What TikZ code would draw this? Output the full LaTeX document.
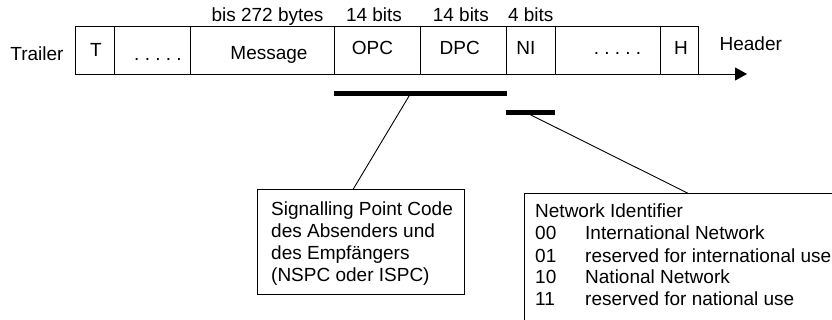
\documentclass[tikz,border=0pt]{standalone}
\usepackage{fontspec}
\setmainfont{Liberation Sans}
\usetikzlibrary{arrows.meta}
\begin{document}
\begin{tikzpicture}[x=1pt,y=-1pt,
  field/.style={draw, line width=0.9pt, rectangle, minimum height=48pt, inner sep=0pt, outer sep=0pt},
  lbl/.style={anchor=base, inner sep=0pt, font=\fontsize{19}{22}\selectfont},
  lblw/.style={anchor=base west, inner sep=0pt, font=\fontsize{19}{22}\selectfont},
  bar/.style={fill=black, inner sep=0pt, outer sep=0pt, minimum height=4.5pt},
  lead/.style={line width=0.9pt},
  infobox/.style={draw, line width=0.9pt, rectangle, inner sep=0pt, outer sep=0pt, anchor=north west}]
\useasboundingbox (0,0) rectangle (832,320);
\clip (0,0) rectangle (832,320);

% packet fields
\node[field, minimum width=39pt]    (fT)    at (94.5,50) {};
\node[field, minimum width=76.7pt]  (fdots1) at (152.35,50) {};
\node[field, minimum width=143.6pt] (fmsg)  at (262.5,50) {};
\node[field, minimum width=86.4pt]  (fopc)  at (377.5,50) {};
\node[field, minimum width=86pt]    (fdpc)  at (463.7,50) {};
\node[field, minimum width=48.3pt]  (fni)   at (530.85,50) {};
\node[field, minimum width=105.3pt] (fdots2) at (607.65,50) {};
\node[field, minimum width=38.4pt]  (fH)    at (679.5,50) {};

% field texts
\node[lbl] (tTrailer) at (37,61) {Trailer};
\node[lbl] (tT)    at (96,56.5) {T};
\node[lbl] (tdots1) at (158,61) {.\ .\ .\ .\ .};
\node[lbl] (tmsg)  at (269,60) {Message};
\node[lbl] (topc)  at (372.5,55) {OPC};
\node[lbl] (tdpc)  at (459.7,55) {DPC};
\node[lbl] (tni)   at (525.8,55) {NI};
\node[lbl] (tdots2) at (617.5,55) {.\ .\ .\ .\ .};
\node[lbl] (tH)    at (681,55) {H};
\node[lbl] (tHeader) at (750.8,51) {Header};

% sizes above
\node[lbl] (sMsg) at (267.5,22) {bis 272 bytes};
\node[lbl] (sOPC) at (374,22) {14 bits};
\node[lbl] (sDPC) at (460.8,22) {14 bits};
\node[lbl] (sNI)  at (530.8,22) {4 bits};

% arrow
\coordinate (tip) at (747,74);
\draw[lead, -{Triangle[length=12pt,width=13pt]}] (fH.south east) -- (tip);

% bars
\node[bar, minimum width=172.7pt] (bar1) at (420.35,93.3) {};
\node[bar, minimum width=49.3pt]  (bar2) at (530.35,112.3) {};

% info boxes
\node[infobox, minimum width=207pt, minimum height=105pt] (box1) at (257,189) {};
\node[infobox, minimum width=320pt, minimum height=140pt] (box2) at (524,193.3) {};

% leader lines
\draw[lead] ([xshift=75.3pt]bar1.south west) -- ([xshift=96.3pt]box1.north west);
\draw[lead] ([xshift=24.3pt]bar2.south west) -- ([xshift=164pt]box2.north west);

% box 1 text
\node[lblw] (b1a) at (271,216)   {Signalling Point Code};
\node[lblw] (b1b) at (271,238)   {des Absenders und};
\node[lblw] (b1c) at (271,260)   {des Empfängers};
\node[lblw] (b1d) at (271,281.5) {(NSPC oder ISPC)};

% box 2 text
\node[lblw] (b2h) at (535,218) {Network Identifier};
\node[lblw] (c00) at (535,240) {00};
\node[lblw] (d00) at (585,240) {International Network};
\node[lblw] (c01) at (535,262) {01};
\node[lblw] (d01) at (585,262) {reserved for international use};
\node[lblw] (c10) at (535,283.5) {10};
\node[lblw] (d10) at (585,283.5) {National Network};
\node[lblw] (c11) at (535,305) {11};
\node[lblw] (d11) at (585,305) {reserved for national use};
\end{tikzpicture}
\end{document}
